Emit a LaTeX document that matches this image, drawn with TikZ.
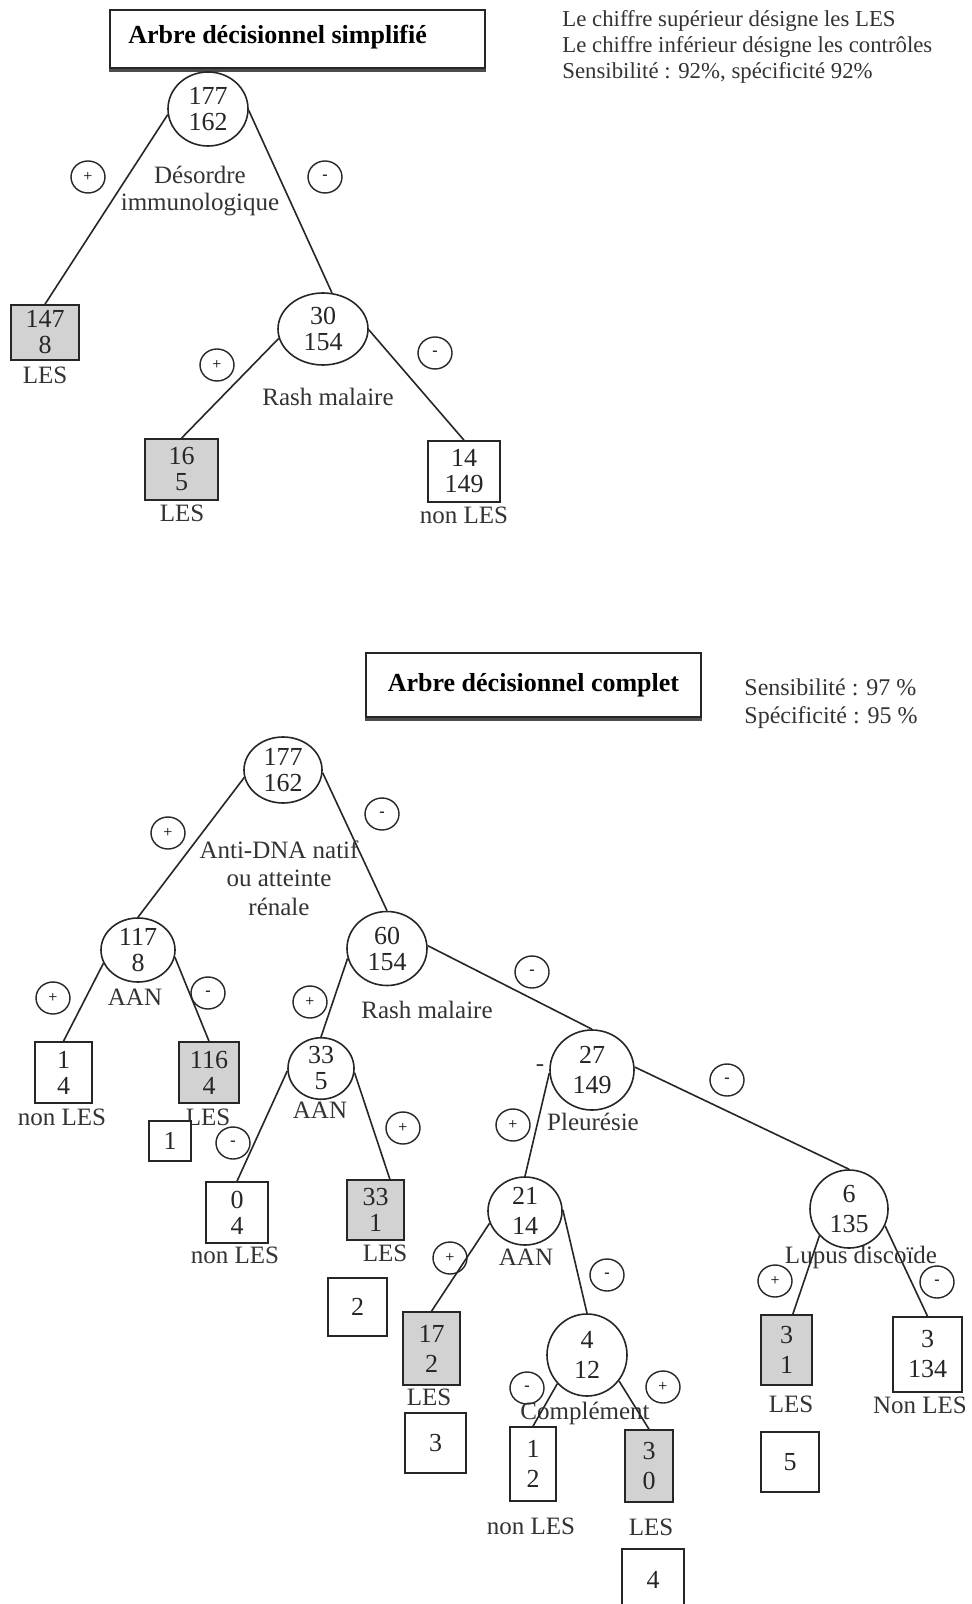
\documentclass[tikz,border=0pt]{standalone}
\usepackage{fontspec}
\setmainfont{Liberation Serif}
\usetikzlibrary{shapes.geometric}
\begin{document}
\begin{tikzpicture}[x=0.5pt,y=-0.5pt]
\tikzset{
 ln/.style={draw=black!85, line width=0.8pt},
 circ/.style={ellipse, draw=black!85, line width=0.8pt, inner sep=0pt, align=center, font=\fontsize{13}{13}\selectfont, text=black!85},
 circw/.style={circ, font=\fontsize{13}{15}\selectfont},
 leaf/.style={rectangle, draw=black!85, line width=0.8pt, inner sep=0pt, align=center, font=\fontsize{13}{13}\selectfont, text=black!85},
 leafw/.style={leaf, font=\fontsize{13}{15}\selectfont},
 les/.style={fill=gray!35},
 numbox/.style={rectangle, draw=black!85, line width=0.8pt, fill=white, inner sep=0pt, font=\fontsize{13}{13}\selectfont, text=black!85},
 sgn/.style={ellipse, draw=black!85, line width=0.7pt, minimum width=17pt, minimum height=16pt, inner sep=0pt, font=\fontsize{8}{8}\selectfont},
 lbl/.style={inner sep=0pt, align=center, font=\fontsize{12.5}{13.5}\selectfont, text=black!80},
 leg/.style={inner sep=0pt, font=\fontsize{11.4}{12.8}\selectfont, text=black!80},
 titlebox/.style={rectangle, draw=black!85, line width=1pt, inner sep=0pt, font=\bfseries\fontsize{13}{13}\selectfont},
 shadowline/.style={draw=black!70, line width=1.4pt}
}
\useasboundingbox (0,0) rectangle (971,1604);
\fill[white] (0,0) rectangle (971,1604);
\clip (0,0) rectangle (971,1604);

% ===== simplified tree =====
\node[titlebox, minimum width=187.5pt, minimum height=29pt] (t1) at (297.5,39) {};
\node[anchor=west, inner sep=0pt, font=\bfseries\fontsize{13}{13}\selectfont] (t1txt) at (128,37) {Arbre décisionnel simplifié};
\draw[shadowline] ([yshift=-0.6pt]t1.south west) -- ([yshift=-0.6pt]t1.south east);
\node[leg, anchor=base west] (lg1) at (562,27) {Le chiffre supérieur désigne les LES};
\node[leg, anchor=base west] (lg2) at (562,53) {Le chiffre inférieur désigne les contrôles};
\node[leg, anchor=base west] (lg3) at (562,79) {Sensibilité : 92\%, spécificité 92\%};

\node[circ, minimum width=40pt, minimum height=37pt] (r1) at (208,109) {177\\162};
\node[lbl, font=\fontsize{12.5}{13.5}\selectfont] (q1) at (200,191) {Désordre\\immunologique};
\node[sgn] (p1) at (88,177) {+};
\node[sgn] (m1) at (325,177) {-};

\node[leaf, les, minimum width=34pt, minimum height=27.5pt] (b1) at (45,332.5) {147\\8};
\node[lbl] (b1l) at (45,375) {LES};

\node[circ, minimum width=45pt, minimum height=36pt] (r2) at (323,329) {30\\154};
\node[sgn] (p2) at (217,365) {+};
\node[sgn] (m2) at (435,353) {-};
\node[lbl] (q2) at (328,397) {Rash malaire};

\node[leaf, les, minimum width=36.5pt, minimum height=30.5pt] (b2) at (181.5,469.5) {16\\5};
\node[lbl] (b2l) at (182,513) {LES};
\node[leaf, minimum width=36pt, minimum height=30.5pt] (b3) at (464,471.5) {14\\149};
\node[lbl] (b3l) at (464,515) {non LES};

\draw[ln] (r1.188) -- (b1.north);
\draw[ln] (r1.358) -- (r2.76);
\draw[ln] (r2.192) -- (b2.north);
\draw[ln] (r2.359) -- (b3.north);

% ===== complete tree =====
\node[titlebox, minimum width=167.5pt, minimum height=32pt] (t2) at (533.5,685) {Arbre décisionnel complet};
\draw[shadowline] ([yshift=-0.6pt]t2.south west) -- ([yshift=-0.6pt]t2.south east);
\node[leg, anchor=west, align=left, font=\fontsize{12}{14}\selectfont] (sens) at (744,704) {Sensibilité : 97 \%\\Spécificité : 95 \%};

\node[circ, minimum width=39pt, minimum height=33pt] (R1) at (283,770) {177\\162};
\node[sgn] (P1) at (168,833) {+};
\node[sgn] (M1) at (382,814) {-};
\node[lbl, font=\fontsize{12.5}{14.25}\selectfont] (Q1) at (279,878) {Anti-DNA natif\\ou atteinte\\rénale};

\node[circ, minimum width=37pt, minimum height=32pt] (A1) at (138,950) {117\\8};
\node[lbl] (A1l) at (135,997) {AAN};
\node[sgn] (P2) at (53,998) {+};
\node[sgn] (M2) at (208,993) {-};
\node[leaf, minimum width=28.5pt, minimum height=30.5pt] (L1) at (63.5,1072.5) {1\\4};
\node[lbl] (L1l) at (62,1117) {non LES};
\node[leaf, les, minimum width=30pt, minimum height=30.5pt] (L2) at (209,1072.5) {116\\4};
\node[lbl] (L2l) at (208,1117) {LES};
\node[numbox, minimum width=21pt, minimum height=20pt] (n1) at (170,1141) {1};

\node[circ, minimum width=40pt, minimum height=37pt] (N60) at (387,948.5) {60\\154};
\node[sgn] (P3) at (310,1002) {+};
\node[lbl] (Q2) at (427,1010) {Rash malaire};

\node[circ, minimum width=33pt, minimum height=29.5pt] (N33) at (321,1068.5) {33\\5};
\node[lbl] (N33l) at (320,1110) {AAN};
\node[sgn] (M3) at (233,1143) {-};
\node[sgn] (P4) at (403,1128) {+};
\node[leaf, minimum width=31pt, minimum height=30.5pt] (L3) at (237,1212.5) {0\\4};
\node[lbl] (L3l) at (235,1255) {non LES};
\node[leaf, les, minimum width=28.5pt, minimum height=30pt] (L4) at (375.5,1210) {33\\1};
\node[lbl] (L4l) at (385,1253) {LES};
\node[numbox, minimum width=29.5pt, minimum height=29pt] (n2) at (357.5,1307) {2};

\node[sgn] (M4) at (532,972) {-};
\node[circw, minimum width=42pt, minimum height=40pt] (N27) at (592,1070) {27\\149};
\node[lbl] (dash) at (540,1068) {-};
\node[sgn] (P5) at (513,1125) {+};
\node[lbl] (Q3) at (593,1122) {Pleurésie};
\node[sgn] (M5) at (727,1080) {-};

\node[circw, minimum width=39pt, minimum height=39pt] (N6) at (849,1209) {6\\135};
\node[lbl] (Q4) at (861,1257) {Lupus discoïde};
\node[sgn] (P6) at (775,1281) {+};
\node[sgn] (M6) at (937,1282) {-};

\node[circw, minimum width=37pt, minimum height=34pt] (N21) at (525,1211) {21\\14};
\node[lbl] (N21l) at (526,1257) {AAN};
\node[sgn] (M7) at (607,1275) {-};
\node[sgn] (P7) at (450,1258) {+};
\node[leafw, les, minimum width=28.5pt, minimum height=36.5pt] (L5) at (431.5,1348.5) {17\\2};
\node[lbl] (L5l) at (429,1397) {LES};
\node[numbox, minimum width=30.5pt, minimum height=30pt] (n3) at (435.5,1443) {3};

\node[circw, minimum width=40pt, minimum height=41pt] (N4) at (587,1355) {4\\12};
\node[sgn] (M8) at (527,1388) {-};
\node[sgn] (P8) at (663,1387) {+};
\node[lbl] (Q5) at (585,1413) {Complément};
\node[leafw, minimum width=23pt, minimum height=37pt] (L6) at (533,1464) {1\\2};
\node[lbl] (L6l) at (531,1526) {non LES};
\node[leafw, les, minimum width=24pt, minimum height=36pt] (L7) at (649,1466) {3\\0};
\node[lbl] (L7l) at (651,1527) {LES};
\node[numbox, minimum width=31pt, minimum height=30.5pt] (n4) at (653,1579.5) {4};

\node[leafw, les, minimum width=25.5pt, minimum height=35pt] (L8) at (786.5,1350) {3\\1};
\node[lbl] (L8l) at (791,1404) {LES};
\node[leafw, minimum width=34.5pt, minimum height=37.5pt] (L9) at (927.5,1354.5) {3\\134};
\node[lbl] (L9l) at (920,1405) {Non LES};
\node[numbox, minimum width=29pt, minimum height=30pt] (n5) at (790,1462) {5};

% connectors
\draw[ln] (R1.191) -- (A1.north);
\draw[ln] (R1.356) -- (N60.north);
\draw[ln] (A1.201) -- (L1.north);
\draw[ln] (A1.349) -- (L2.north);
\draw[ln] (N60.194) -- (N33.north);
\draw[ln] (N60.4) -- (N27.north);
\draw[ln] (N33.184) -- (L3.north);
\draw[ln] (N33.353) -- (L4.65);
\draw[ln] (N27.184) -- (N21.north);
\draw[ln] (N27.4) -- (N6.north);
\draw[ln] (N21.199) -- (L5.north);
\draw[ln] (N21.2) -- (N4.north);
\draw[ln] (N4.224) -- (L6.north);
\draw[ln] (N4.321) -- (L7.north);
\draw[ln] (N6.222) -- (L8.80);
\draw[ln] (N6.335) -- (L9.north);
\end{tikzpicture}
\end{document}
